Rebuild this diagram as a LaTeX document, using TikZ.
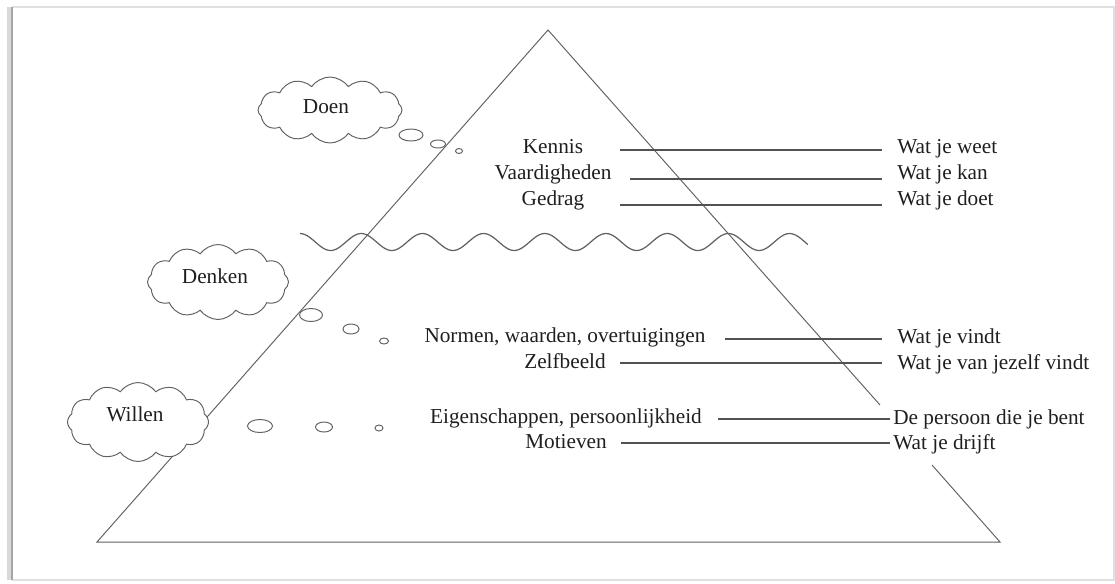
\documentclass[tikz,border=0pt]{standalone}
\usepackage{fontspec}
\setmainfont{Liberation Serif}
\usetikzlibrary{shapes.symbols,shapes.geometric}
\begin{document}
\begin{tikzpicture}[x=0.02cm,y=-0.02cm,
  edge/.style={draw=black!62, line width=0.55pt},
  link/.style={draw=black!68, line width=0.75pt},
  lbl/.style={inner sep=0pt, anchor=base, font=\fontsize{12.1}{14}\selectfont, text=black!88},
  rlbl/.style={lbl, anchor=base west},
  thought/.style={cloud, cloud puffs=12, cloud puff arc=110, cloud ignores aspect, draw=black!62, fill=white, line width=0.55pt, inner sep=0pt},
  bubble/.style={ellipse, draw=black!62, line width=0.55pt, inner sep=0pt},
]
\useasboundingbox (0,0) rectangle (1115,583);
% frame
\draw[black!12, line width=1.2pt] (12,7) -- (1114,7) -- (1114,580) -- (12,580);
\draw[black!15, line width=2pt] (9,7) -- (9,580);
\draw[black!35, line width=0.8pt] (12,7) -- (12,580);

% triangle
\coordinate (apex) at (548,30);
\coordinate (bl) at (97,542);
\coordinate (br) at (1000,542);
\coordinate (gapT) at (880,405);
\coordinate (gapB) at (932,465);
\draw[edge] (gapT) -- (apex) -- (bl) -- (br) -- (gapB);

% water line
\draw[edge, line width=0.7pt] plot[domain=0:8.3, samples=220, smooth] ({300+\x*61.2}, {242-8.5*cos(360*\x)});

% clouds
\node[thought, minimum width=2.88cm, minimum height=1.32cm] (cDoen) at (330,110) {};
\node[lbl] (tDoen) at (326,113) {Doen};
\node[thought, minimum width=2.82cm, minimum height=1.5cm] (cDenken) at (218,282) {};
\node[lbl] (tDenken) at (215,283) {Denken};
\node[thought, minimum width=2.82cm, minimum height=1.58cm] (cWillen) at (138,422) {};
\node[lbl] (tWillen) at (135,421) {Willen};

% bubbles
\node[bubble, minimum width=0.48cm, minimum height=0.24cm] (bd1) at (411,135) {};
\node[bubble, minimum width=0.30cm, minimum height=0.16cm] (bd2) at (438,144) {};
\node[bubble, minimum width=0.14cm, minimum height=0.10cm] (bd3) at (459,151) {};
\node[bubble, minimum width=0.46cm, minimum height=0.26cm] (bk1) at (311,315) {};
\node[bubble, minimum width=0.32cm, minimum height=0.20cm] (bk2) at (351,329) {};
\node[bubble, minimum width=0.18cm, minimum height=0.12cm] (bk3) at (384,341) {};
\node[bubble, minimum width=0.50cm, minimum height=0.26cm] (bw1) at (260,426) {};
\node[bubble, minimum width=0.34cm, minimum height=0.20cm] (bw2) at (324,427) {};
\node[bubble, minimum width=0.16cm, minimum height=0.12cm] (bw3) at (379,428) {};

% left labels
\node[lbl] (kennis) at (553,153) {Kennis};
\node[lbl] (vaard) at (553,179) {Vaardigheden};
\node[lbl] (gedrag) at (553,205) {Gedrag};
\node[lbl] (normen) at (565,342) {Normen, waarden, overtuigingen};
\node[lbl] (zelf) at (565,368) {Zelfbeeld};
\node[lbl] (eigen) at (566,423) {Eigenschappen, persoonlijkheid};
\node[lbl] (motief) at (566,448) {Motieven};

% right labels
\node[rlbl] (weet) at (897,153) {Wat je weet};
\node[rlbl] (kan) at (897,179) {Wat je kan};
\node[rlbl] (doet) at (897,205) {Wat je doet};
\node[rlbl] (vindt) at (897,343) {Wat je vindt};
\node[rlbl] (jezelf) at (897,369) {Wat je van jezelf vindt};
\node[rlbl] (persoon) at (893,424) {De persoon die je bent};
\node[rlbl] (drijft) at (893,449) {Wat je drijft};

% connector ends
\coordinate (k1) at (620,150); \coordinate (k2) at (882,150);
\coordinate (v1) at (630,179); \coordinate (v2) at (882,179);
\coordinate (g1) at (620,205); \coordinate (g2) at (882,205);
\coordinate (n1) at (725,339); \coordinate (n2) at (882,339);
\coordinate (z1) at (620,363); \coordinate (z2) at (882,363);
\coordinate (e1) at (718,419); \coordinate (e2) at (890,419);
\coordinate (m1) at (621,443); \coordinate (m2) at (890,443);
\draw[link] (k1) -- (k2);
\draw[link] (v1) -- (v2);
\draw[link] (g1) -- (g2);
\draw[link] (n1) -- (n2);
\draw[link] (z1) -- (z2);
\draw[link] (e1) -- (e2);
\draw[link] (m1) -- (m2);
\end{tikzpicture}
\end{document}
